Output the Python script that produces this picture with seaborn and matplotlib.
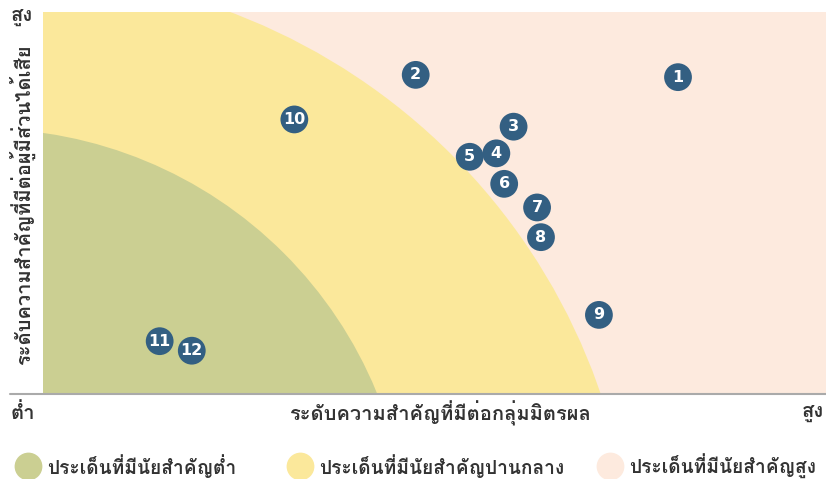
import matplotlib
matplotlib.use("Agg")
import matplotlib.pyplot as plt
from matplotlib import font_manager
from matplotlib.ft2font import FT2Font
from matplotlib.patches import Ellipse
from matplotlib.lines import Line2D
import seaborn as sns
import pandas as pd

# ข้อมูลประเด็น (ค่าประมาณจากภาพ, สเกล 0-10)
issue_ids = ["1", "2", "3", "4", "5", "6", "7", "8", "9", "10", "11", "12"]
group_score = [8.11, 4.76, 6.01, 5.79, 5.45, 5.89, 6.31, 6.36, 7.10, 3.21, 1.49, 1.90]
stakeholder_score = [8.29, 8.35, 6.99, 6.29, 6.20, 5.49, 4.87, 4.09, 2.05, 7.18, 1.36, 1.11]

# โซนพื้นหลัง: (ศูนย์กลาง x, ศูนย์กลาง y, รัศมี x, รัศมี y)
zone_names = ["ประเด็นที่มีนัยสำคัญต่ำ", "ประเด็นที่มีนัยสำคัญปานกลาง", "ประเด็นที่มีนัยสำคัญสูง"]
zone_colors = ["#CBCF92", "#FBE89B", "#FDEADE"]
mid_zone = (-0.42, -5.30, 7.97, 16.35)
low_zone = (-0.77, -4.23, 5.44, 11.17)

x_label = "ระดับความสำคัญที่มีต่อกลุ่มมิตรผล"
y_label = "ระดับความสำคัญที่มีต่อผู้มีส่วนได้เสีย"
low_text = "ต่ำ"
high_text = "สูง"

dot_color = "#335F82"
text_color = "#333333"


def find_thai_font():
    for f in font_manager.fontManager.ttflist:
        try:
            if 0x0E01 in FT2Font(f.fname).get_charmap():
                return f.name
        except Exception:
            continue
    return None


sns.set_style("white")
thai = find_thai_font()
families = [thai, "DejaVu Sans"] if thai else ["DejaVu Sans"]
plt.rcParams["font.family"] = families

df = pd.DataFrame({"id": issue_ids, "x": group_score, "y": stakeholder_score})

fig = plt.figure(figsize=(8.26, 4.79), dpi=100)
ax = fig.add_axes([43 / 826, 1 - 393 / 479, 1 - 43 / 826, 381 / 479])
ax.set_facecolor(zone_colors[2])

for (cx, cy, rx, ry), col in [(mid_zone, zone_colors[1]), (low_zone, zone_colors[0])]:
    ax.add_patch(Ellipse((cx, cy), 2 * rx, 2 * ry, facecolor=col, edgecolor="none", zorder=1))

sns.scatterplot(data=df, x="x", y="y", ax=ax, s=400, color=dot_color,
                edgecolor="none", zorder=3, legend=False)
for _, r in df.iterrows():
    ax.text(r["x"], r["y"], r["id"], color="white", fontsize=11.5, fontweight="bold",
            ha="center", va="center", zorder=4, family=["DejaVu Sans"])

ax.set_xlim(0, 10)
ax.set_ylim(0, 10)
ax.set_xticks([])
ax.set_yticks([])
ax.set_xlabel("")
ax.set_ylabel("")
sns.despine(ax=ax, left=True, bottom=True, top=True, right=True)

# เส้นฐาน
fig.add_artist(Line2D([0.012, 1.0], [1 - 393.5 / 479] * 2, color="#AAAAAA", lw=1.5))

fs = 14.5
fig.text(22 / 826, 1 - 16 / 479, high_text, ha="center", va="center", fontsize=fs,
         fontweight="bold", color=text_color)
fig.text(22 / 826, 1 - 205 / 479, y_label, ha="center", va="center", rotation=90,
         fontsize=fs, fontweight="bold", color=text_color)
fig.text(23 / 826, 1 - 413 / 479, low_text, ha="center", va="center", fontsize=fs,
         fontweight="bold", color=text_color)
fig.text(440 / 826, 1 - 413 / 479, x_label, ha="center", va="center", fontsize=fs,
         fontweight="bold", color=text_color)
fig.text(824 / 826, 1 - 413 / 479, high_text, ha="right", va="center", fontsize=fs,
         fontweight="bold", color=text_color)

# คำอธิบายโซน
legend_x = [28, 300, 610]
for lx, name, col in zip(legend_x, zone_names, zone_colors):
    fig.add_artist(Line2D([lx / 826], [1 - 466 / 479], marker="o", markersize=20,
                          color=col, markeredgecolor="none", linestyle="none"))
    fig.text((lx + 19) / 826, 1 - 466 / 479, name, ha="left", va="center",
             fontsize=13.8, fontweight="bold", color=text_color)

fig.savefig("out.png", dpi=100)
